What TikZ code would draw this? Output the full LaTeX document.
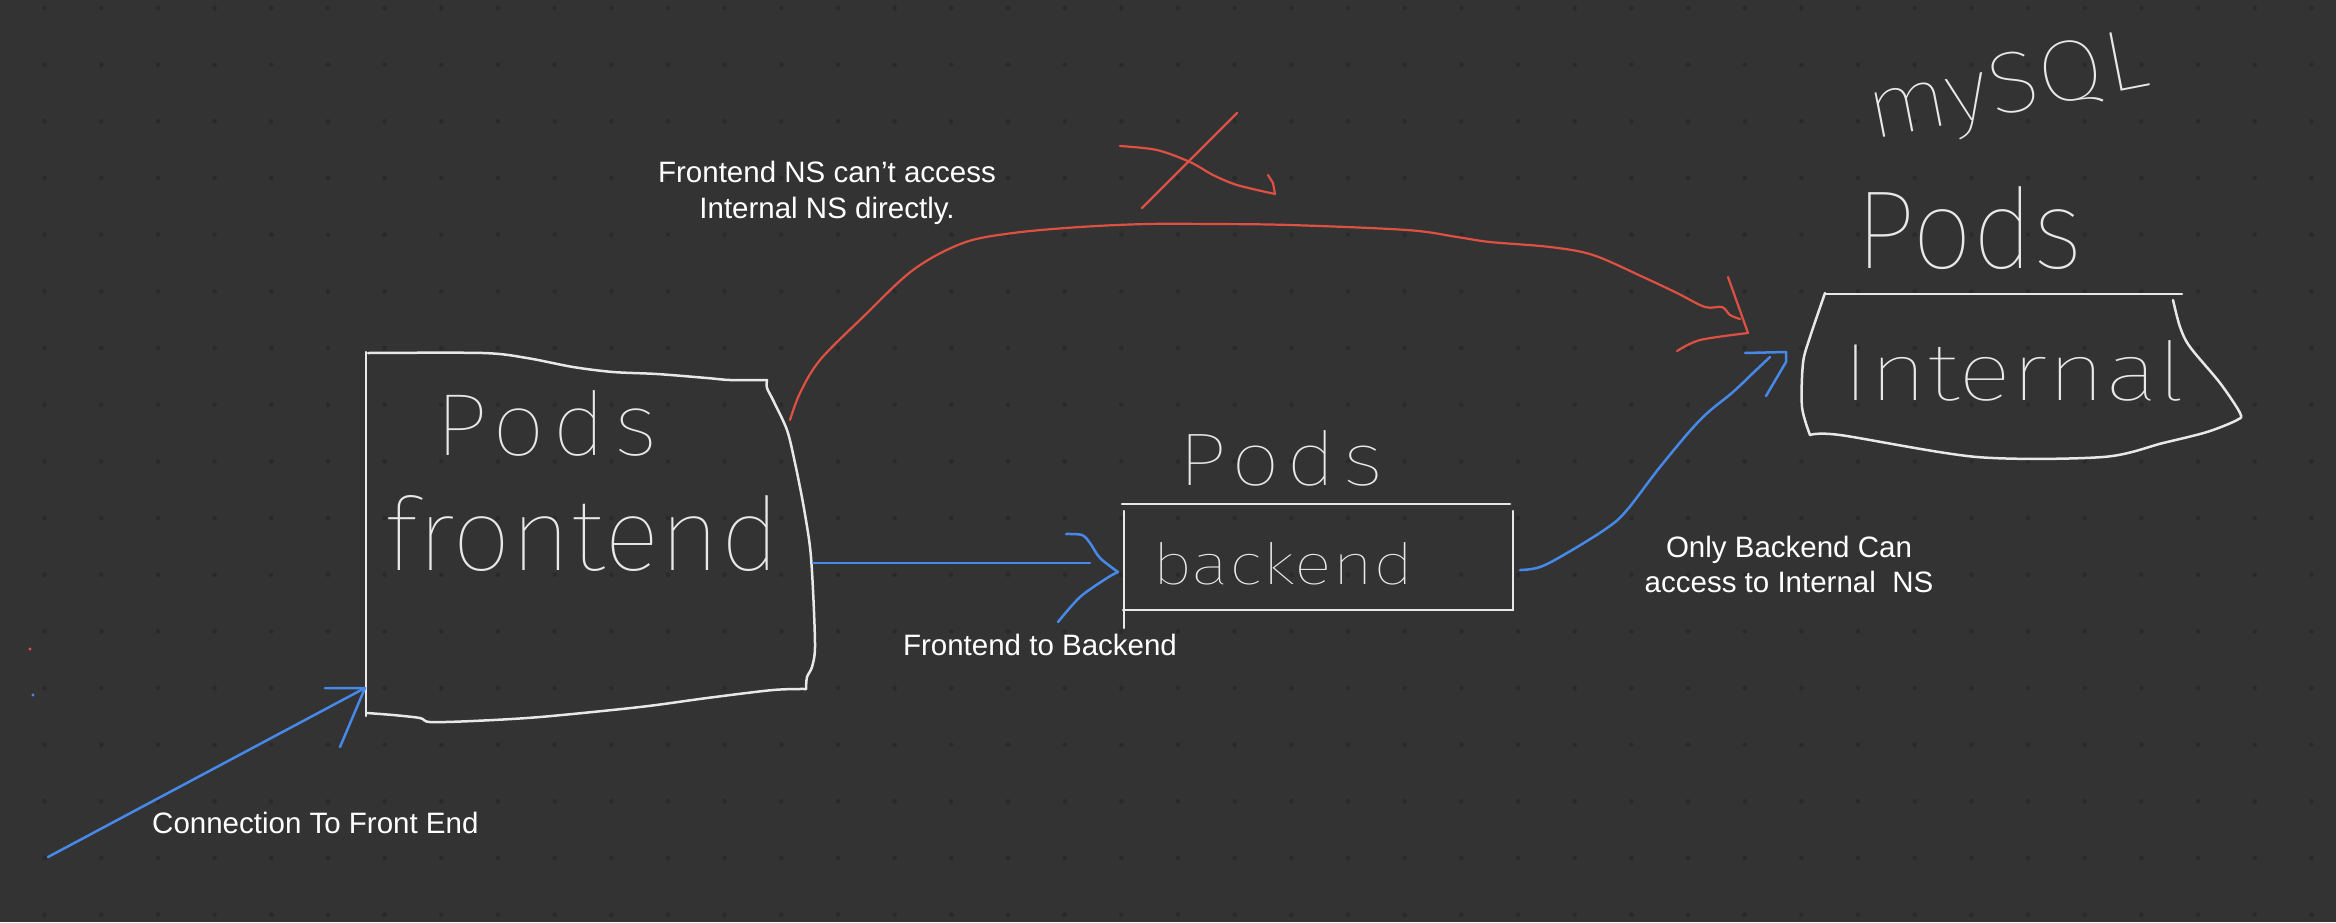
\documentclass[tikz,border=0pt]{standalone}
\usepackage{fontspec}
\setmainfont{Liberation Sans}
\newfontfamily\hand{Fira Sans Thin}
\usepackage{graphicx}
\definecolor{bg}{RGB}{51,51,51}
\definecolor{griddot}{RGB}{42,42,42}
\definecolor{penwhite}{RGB}{232,232,232}
\definecolor{penblue}{RGB}{70,137,232}
\definecolor{penred}{RGB}{222,80,66}
\newcommand\hwtext[3]{\resizebox{#1pt}{#2pt}{\hand #3}}
\newcommand\hwspaced[3]{\resizebox{#1pt}{#2pt}{\hand\addfontfeature{LetterSpace=8}#3}}
\begin{document}
\begin{tikzpicture}[x=1pt,y=-1pt,
  stroke/.style={line width=2.5pt, line cap=round, line join=round},
  wstroke/.style={stroke, draw=penwhite},
  bstroke/.style={stroke, draw=penblue},
  rstroke/.style={stroke, draw=penred, line width=2.2pt},
  lbl/.style={text=white, font=\fontsize{29.5}{35}\selectfont, inner sep=0pt, anchor=base},
  hw/.style={text=penwhite, inner sep=0pt, anchor=base west}]

\fill[bg] (0,0) rectangle (2336,922);
\useasboundingbox (0,0) rectangle (2336,922);

% dot grid
\foreach \i in {0,...,40} {
  \foreach \j in {0,...,16} {
    \fill[griddot] (44.6+56.67*\i, 8+56.67*\j) circle (2.3);
  }
}
\fill[penred] (30,649) circle (1.6);
\fill[penblue] (33,695) circle (1.6);

% ---------- Frontend box ----------
\draw[wstroke] (366,352) -- (366,716);
\draw[wstroke] plot[smooth, tension=0.5] coordinates {(368,353) (483,353) (527,358) (573,367) (613,372) (657,374) (707,378) (730,380) (767,380)};
\draw[wstroke] plot[smooth, tension=0.5] coordinates {(767,380) (767,388) (773,400) (787,430) (795,463) (803,503) (810,547) (813,590) (815,647) (812,667) (807,677) (806,689)};
\draw[wstroke] plot[smooth, tension=0.5] coordinates {(806,689) (773,690) (707,698) (640,707) (540,717) (473,721) (430,722) (420,718) (393,715) (367,713)};
\coordinate (feIn) at (365,688);
\coordinate (feOut) at (813,563);
\coordinate (feTop) at (790,420);
\node[hw] (fePods) at (435,455) {\hwspaced{222}{65}{Pods}};
\node[hw] (feText) at (385,570) {\hwtext{395}{75}{frontend}};

% ---------- Backend box ----------
\draw[wstroke] (1122,504) -- (1510,504);
\draw[wstroke] (1124,511) -- (1124,628);
\draw[wstroke] (1123,610) -- (1513,610);
\draw[wstroke] (1513,511) -- (1513,610);
\coordinate (beIn) at (1118,572);
\coordinate (beOut) at (1520,570);
\node[hw] (bePods) at (1178,485) {\hwspaced{205}{55}{Pods}};
\node[hw] (beText) at (1152,584) {\hwtext{262}{42}{backend}};

% ---------- Internal box ----------
\draw[wstroke] (1825,294) -- (2182,294);
\draw[wstroke] plot[smooth, tension=0.5] coordinates {(1825,293) (1810,337) (1803,363) (1802,407) (1810,435)};
\draw[wstroke] plot[smooth, tension=0.5] coordinates {(1810,435) (1840,435) (1977,457) (2103,457) (2163,443) (2207,432) (2237,420) (2240,413) (2220,383) (2190,347) (2180,327) (2173,300)};
\coordinate (inIn) at (1786,352);
\coordinate (inRed) at (1748,333);
\node[hw] (inPods) at (1855,268) {\hwtext{228}{82}{Pods}};
\node[hw] (inText) at (1842,400) {\hwtext{343}{60}{Internal}};
\node[hw, rotate=11] (mysql) at (1872,140) {\hwtext{285}{60}{mySQL}};

% ---------- Connection to frontend ----------
\coordinate (src) at (48,857);
\draw[bstroke] (src) -- (feIn);
\draw[bstroke] (325,688) -- (feIn) -- (340,747);
\node[lbl, anchor=base west] (lconn) at (152,833) {Connection To Front End};

% ---------- Frontend -> Backend ----------
\draw[bstroke] (feOut) -- (1090,563);
\draw[bstroke] plot[smooth, tension=0.5] coordinates {(1066,534) (1082,535) (1090,543) (1100,558) (beIn)};
\draw[bstroke] plot[smooth, tension=0.5] coordinates {(beIn) (1107,578) (1080,597) (1058,622)};
\node[lbl] (lfb) at (1040,655) {Frontend to Backend};

% ---------- Backend -> Internal ----------
\draw[bstroke] plot[smooth, tension=0.6] coordinates {(beOut) (1540,567) (1567,553) (1607,528) (1627,510) (1660,467) (1700,420) (1733,392) (1753,373) (1770,357)};
\draw[bstroke] (1745,353) -- (inIn) -- (1786,362) -- (1766,396);
\node[lbl] (lbi1) at (1789,557) {Only Backend Can};
\node[lbl] (lbi2) at (1789,592) {access to Internal\ \ NS};

% ---------- Frontend -> Internal (denied) ----------
\draw[rstroke] plot[smooth, tension=0.55] coordinates {(feTop) (800,393) (820,360) (863,317) (913,270) (963,243) (1013,233) (1080,227) (1147,224) (1213,224) (1290,225) (1407,230) (1457,237) (1490,242) (1550,247) (1593,255) (1643,277) (1677,293) (1705,307) (1722,307) (1730,315) (1740,319)};
\draw[rstroke] (1728,277) -- (inRed);
\draw[rstroke] plot[smooth, tension=0.5] coordinates {(inRed) (1700,340) (1677,351)};
% cross-out mark
\draw[rstroke] plot[smooth, tension=0.5] coordinates {(1120,146) (1157,150) (1190,162) (1213,175) (1237,185) (1275,194)};
\draw[rstroke] (1275,194) -- (1273,183) -- (1268,175);
\draw[rstroke] (1237,113) -- (1142,208);
\node[lbl] (lno1) at (827,182) {Frontend NS can’t access};
\node[lbl] (lno2) at (827,218) {Internal NS directly.};
\end{tikzpicture}
\end{document}
